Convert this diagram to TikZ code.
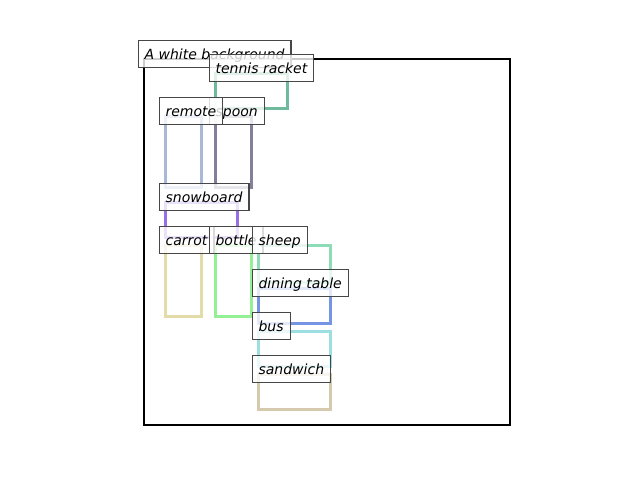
\documentclass[tikz,border=0pt]{standalone}
\usepackage{fontspec}
\setmainfont{DejaVu Sans}
\definecolor{cTennis}{HTML}{5FB291}
\definecolor{cRemote}{HTML}{9FB0D0}
\definecolor{cSpoon}{HTML}{76708E}
\definecolor{cSnow}{HTML}{8C5EE0}
\definecolor{cCarrot}{HTML}{E0D8A0}
\definecolor{cBottle}{HTML}{88EE88}
\definecolor{cSheep}{HTML}{80D8B0}
\definecolor{cDining}{HTML}{6688E0}
\definecolor{cBus}{HTML}{90DCE0}
\definecolor{cSandwich}{HTML}{D0C4A4}
\begin{document}
\begin{tikzpicture}[x=1pt,y=-1pt,
  bbox/.style={line width=3pt, draw opacity=0.9},
  lbl/.style={draw=black!72, line width=1.2pt, fill=white, fill opacity=0.8, text opacity=1,
    anchor=west, inner xsep=6.5pt, inner ysep=0pt, minimum height=27pt,
    text height=12.5pt, text depth=1.5pt,
    font=\fontsize{14}{16}\selectfont\itshape}]
\useasboundingbox (0,0) rectangle (640,480);
% frame
\draw[line width=2.4pt] (144,59) rectangle (510,425);
% boxes
\draw[bbox, draw=cTennis] (215,73) rectangle (287,108);
\draw[bbox, draw=cRemote] (165,116) rectangle (201,187);
\draw[bbox, draw=cSpoon] (215,116) rectangle (251,187);
\draw[bbox, draw=cSnow] (165,202) rectangle (237,237);
\draw[bbox, draw=cCarrot] (165,245) rectangle (201,316);
\draw[bbox, draw=cBottle] (215,245) rectangle (251,316);
\draw[bbox, draw=cSheep] (258,245) rectangle (330,282);
\draw[bbox, draw=cDining] (258,288) rectangle (330,323);
\draw[bbox, draw=cBus] (258,331) rectangle (330,366);
\draw[bbox, draw=cSandwich] (258,374) rectangle (330,409);
% labels
\node[lbl] (bg) at (137.5,54) {A white background};
\node[lbl] (tennis) at (208.5,68) {tennis racket};
\node[lbl] (spoon) at (208.5,111) {spoon};
\node[lbl] (remote) at (158.5,111) {remote};
\node[lbl] (snow) at (158.5,197) {snowboard};
\node[lbl] (carrot) at (158.5,240) {carrot};
\node[lbl] (bottle) at (208.5,240) {bottle};
\node[lbl] (sheep) at (251.5,240) {sheep};
\node[lbl] (dining) at (251.5,283) {dining table};
\node[lbl] (bus) at (251.5,326) {bus};
\node[lbl] (sandwich) at (251.5,369) {sandwich};
\end{tikzpicture}
\end{document}
